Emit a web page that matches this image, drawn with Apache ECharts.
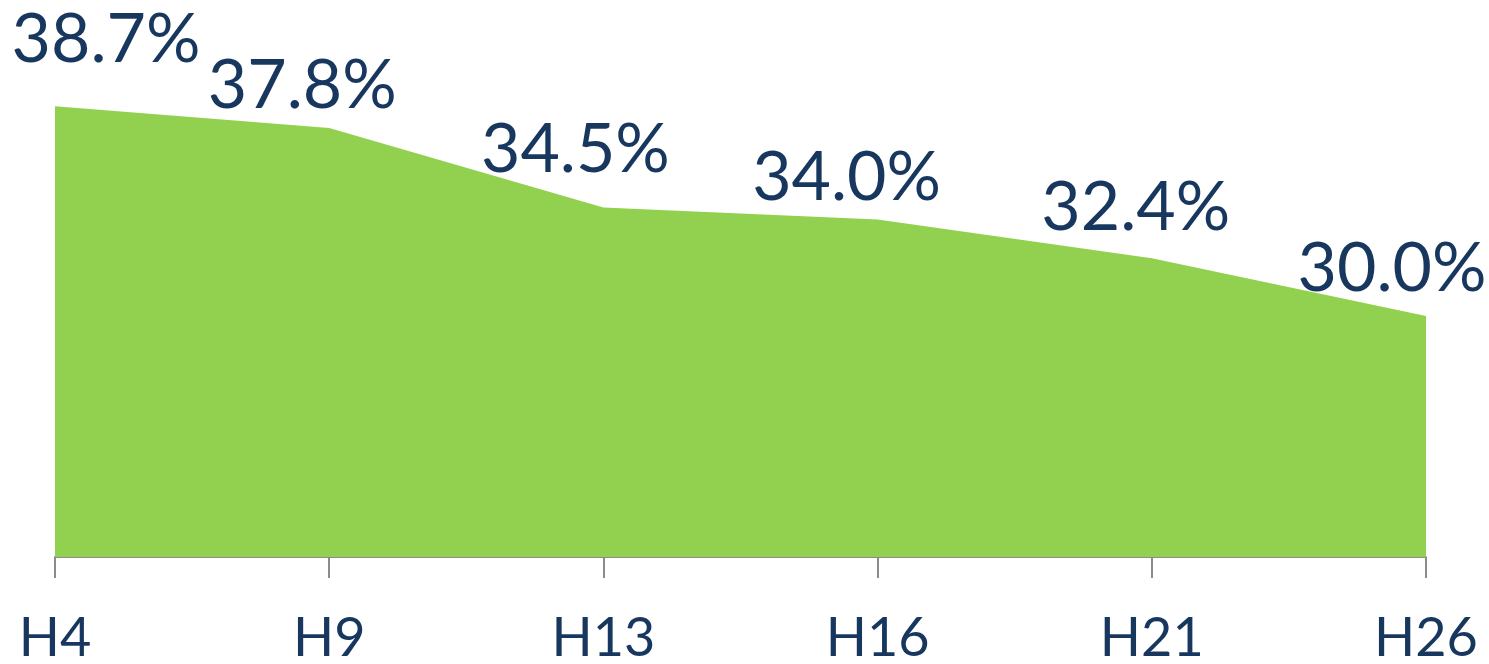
<!DOCTYPE html>
<html>
<head>
<meta charset="utf-8">
<script src="https://cdn.jsdelivr.net/npm/echarts@6/dist/echarts.min.js"></script>
<style>html,body{margin:0;padding:0;background:#fff;}#c{width:1489px;height:664px;}</style>
</head>
<body>
<div id="c"></div>
<script>
const categories = ['H4', 'H9', 'H13', 'H16', 'H21', 'H26'];
const values = [38.7, 37.8, 34.5, 34.0, 32.4, 30.0];
// label displacement (px) relative to each point: [dx, dy]
const labelOffsets = [[51, -32], [-27, -7], [-28, -23], [-31, -7], [-16, -16], [-34, -12]];

const chart = echarts.init(document.getElementById('c'));
const FONT = 'Lato';
const TXT = '#17375E';
chart.setOption({
  animation: false,
  grid: { left: 55, right: 63, top: 75, bottom: 107, containLabel: false, outerBoundsMode: 'none' },
  xAxis: {
    type: 'category',
    data: categories,
    boundaryGap: false,
    axisLine: { lineStyle: { color: '#8C8C8C', width: 2 } },
    axisTick: { show: true, length: 21, alignWithLabel: true, lineStyle: { color: '#8C8C8C', width: 2 } },
    axisLabel: { color: TXT, fontFamily: FONT, fontSize: 54, margin: 55 },
    splitLine: { show: false }
  },
  yAxis: {
    type: 'value', min: 20, max: 40, show: false,
    splitLine: { show: false }
  },
  series: [{
    type: 'line',
    data: values.map((v, i) => ({
      value: v,
      label: { offset: labelOffsets[i] }
    })),
    symbol: 'circle',
    symbolSize: 1,
    showSymbol: true,
    itemStyle: { color: 'rgba(0,0,0,0)', borderWidth: 0 },
    lineStyle: { width: 0, color: '#92D050' },
    areaStyle: { color: '#92D050', opacity: 1 },
    label: {
      show: true,
      position: 'top',
      distance: 0,
      formatter: p => p.value.toFixed(1) + '%',
      color: TXT,
      fontFamily: FONT,
      fontSize: 68,
      lineHeight: 68
    }
  }]
});
</script>
</body>
</html>
